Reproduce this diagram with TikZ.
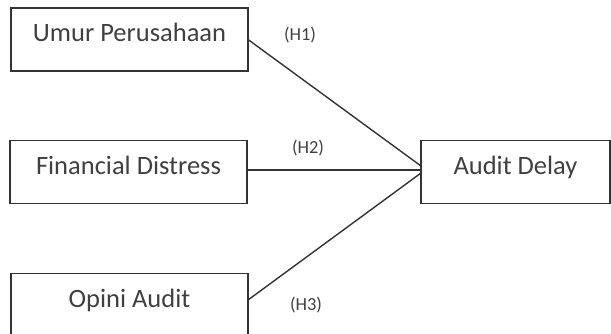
\documentclass[tikz,border=0pt]{standalone}
\usepackage{fontspec}
\setmainfont{Carlito}
\usepackage{tikz}
\definecolor{ink}{gray}{0.25}
\definecolor{edge}{gray}{0.2}

\begin{document}
\begin{tikzpicture}[x=0.5pt, y=-0.5pt,
    varbox/.style={draw=edge, line width=0.75pt, text=ink, font=\fontsize{13.25pt}{15pt}\selectfont,
      inner ysep=5pt, text height=11.75pt, text depth=9.75pt, minimum width=118.5pt, outer sep=0pt},
    hlabel/.style={text=ink, font=\fontsize{9.2pt}{11pt}\selectfont, inner sep=0pt},
    link/.style={draw=edge, line width=0.7pt}]
  \useasboundingbox (0, 0) rectangle (611, 333);
  \clip (0, 0) rectangle (611, 333);

  % variables
  \node[varbox] (umur) at (129.5, 39.5) {Umur Perusahaan};
  \node[varbox] (fd) at (128.5, 172) {Financial Distress};
  \node[varbox] (opini) at (129.5, 305) {Opini Audit};
  \node[varbox, minimum width=94.5pt] (delay) at (515.5, 172) {Audit Delay};

  % hypotheses
  \node[hlabel] (h1) at (300, 35) {(H1)};
  \node[hlabel] (h2) at (308, 148) {(H2)};
  \node[hlabel] (h3) at (306, 305) {(H3)};

  \draw[link] (umur.east) -- ([yshift=3pt]delay.west);
  \draw[link] ([yshift=1pt]fd.east) -- ([yshift=1pt]delay.west);
  \draw[link] ([yshift=2.5pt]opini.east) -- ([yshift=-0.5pt]delay.west);
\end{tikzpicture}
\end{document}
